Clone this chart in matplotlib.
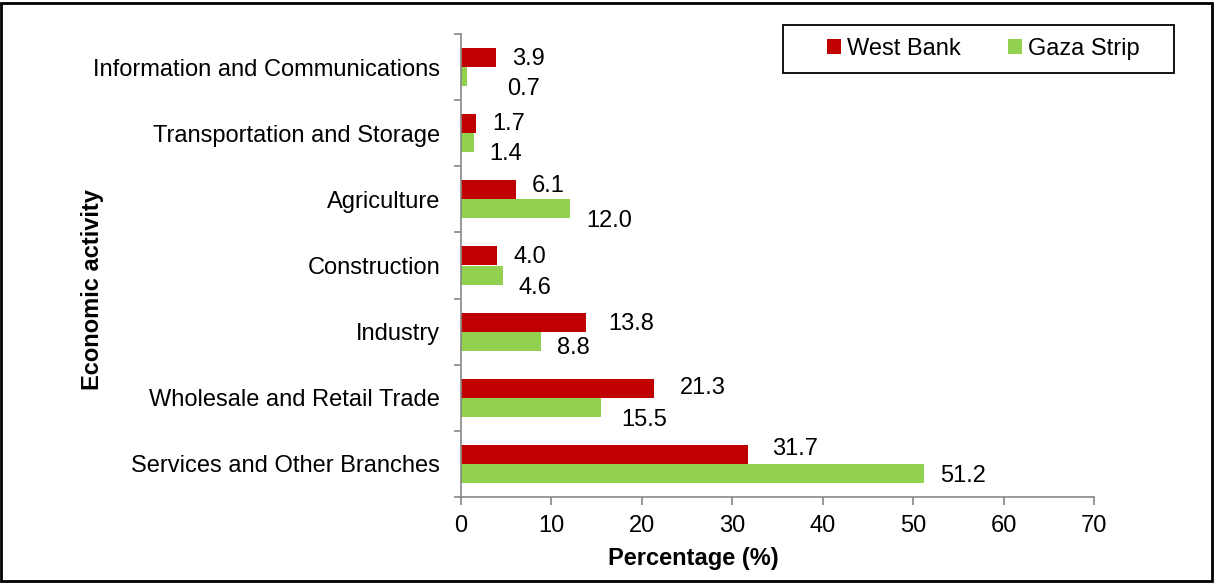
import matplotlib
matplotlib.use("Agg")
import matplotlib.pyplot as plt
from matplotlib.patches import Rectangle
import numpy as np

plt.rcParams['font.family'] = ['Liberation Sans', 'DejaVu Sans']

categories = ["Information and Communications", "Transportation and Storage",
              "Agriculture", "Construction", "Industry",
              "Wholesale and Retail Trade", "Services and Other Branches"]
west_bank = [3.9, 1.7, 6.1, 4.0, 13.8, 21.3, 31.7]
gaza_strip = [0.7, 1.4, 12.0, 4.6, 8.8, 15.5, 51.2]
series_names = ["West Bank", "Gaza Strip"]
x_ticks = [0, 10, 20, 30, 40, 50, 60, 70]

# label offsets in pixels (dx right, dy down)
wb_off = [(16, 1), (16, 0), (16, -4), (16, 1), (22, 2), (26, 0), (24, -5)]
gz_off = [(40, 12), (16, 11), (17, 12), (16, 13), (16, 7), (20, 13), (16, 3)]

RED = "#C00000"
GREEN = "#92D050"
GREY = "#868686"
FS = 17

fig = plt.figure(figsize=(12.16, 5.83), dpi=100)
ax = fig.add_axes([461/1216, 1-497/583, (1094-461)/1216, (497-34)/583])

y = np.arange(len(categories))
h = 0.288
ax.barh(y - h/2, west_bank, height=h, color=RED, label=series_names[0])
ax.barh(y + h/2, gaza_strip, height=h, color=GREEN, label=series_names[1])

for i in range(len(categories)):
    dx, dy = wb_off[i]
    ax.annotate(f"{west_bank[i]:.1f}", (west_bank[i], y[i] - h/2),
                xytext=(dx, -dy), textcoords='offset pixels',
                ha='left', va='center', fontsize=FS)
    dx, dy = gz_off[i]
    ax.annotate(f"{gaza_strip[i]:.1f}", (gaza_strip[i], y[i] + h/2),
                xytext=(dx, -dy), textcoords='offset pixels',
                ha='left', va='center', fontsize=FS)

ax.set_xlim(0, 70)
ax.set_ylim(len(categories) - 0.5, -0.5)
ax.set_xticks(x_ticks)
ax.set_xticklabels([str(v) for v in x_ticks], fontsize=FS)
ax.set_yticks(y)
ax.set_yticklabels(categories, fontsize=FS)
ax.set_yticks(np.arange(len(categories) + 1) - 0.5, minor=True)
ax.tick_params(axis='y', which='major', length=0, pad=15)
ax.tick_params(axis='y', which='minor', length=5, color=GREY, width=1.2)
ax.tick_params(axis='x', which='major', length=6, color=GREY, width=1.2, pad=7)

for s in ['top', 'right']:
    ax.spines[s].set_visible(False)
for s in ['left', 'bottom']:
    ax.spines[s].set_color(GREY)
    ax.spines[s].set_linewidth(1.2)

fig.text(693/1216, 1-558/583, "Percentage (%)", fontsize=FS, fontweight='bold',
         ha='center', va='center')
fig.text(92/1216, 1-290/583, "Economic activity", fontsize=FS, fontweight='bold',
         ha='center', va='center', rotation=90)

leg = ax.legend(loc='center', bbox_to_anchor=(983/1216, 1-49/583),
                bbox_transform=fig.transFigure, ncol=2, fontsize=FS,
                frameon=False, handlelength=0.6, handleheight=0.6,
                handletextpad=0.25, columnspacing=2.0, borderpad=0,
                borderaxespad=0)
fig.add_artist(Rectangle((783/1216, 1-73/583), (1174-783)/1216, 48/583,
                         transform=fig.transFigure, fill=False,
                         edgecolor='black', linewidth=1.3))

fig.add_artist(Rectangle((1/1216, 2/583), 1211/1216, 578/583,
                         transform=fig.transFigure, fill=False,
                         edgecolor='black', linewidth=2))

fig.savefig("out.png", dpi=100)
